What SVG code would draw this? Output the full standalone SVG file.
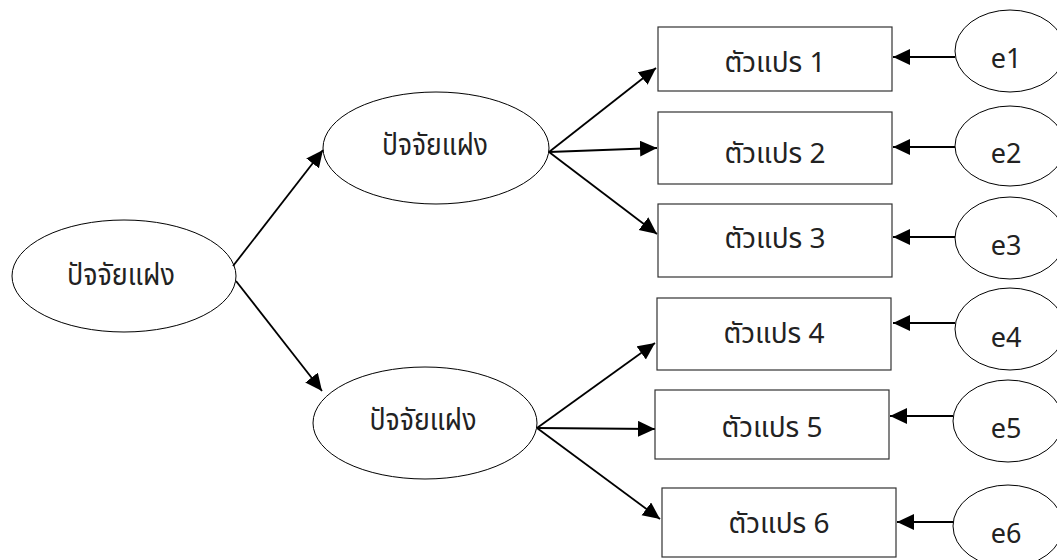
<svg xmlns="http://www.w3.org/2000/svg" width="1057" height="560" viewBox="0 0 1057 560">
<style>
  .bg { fill: #ffffff; }
  .latent { fill: none; stroke: #000000; stroke-width: 1; }
  .obs { fill: none; stroke: #333333; stroke-width: 1.2; }
  .err { fill: none; stroke: #000000; stroke-width: 1; }
  .edge { fill: none; stroke: #000000; stroke-width: 1.8; marker-end: url(#arrow); }
  .lt { font-family: "Noto Sans Thai", "Noto Sans", "DejaVu Sans", sans-serif; font-size: 30px; fill: #222222; text-anchor: middle; }
  .ot { font-family: "Noto Sans Thai", "Noto Sans", "DejaVu Sans", sans-serif; font-size: 28px; fill: #222222; text-anchor: middle; }
  .et { font-family: "Noto Sans", "Open Sans", sans-serif; font-size: 27px; fill: #222222; text-anchor: middle; }
</style>
<defs>
  <marker id="arrow" markerUnits="userSpaceOnUse" markerWidth="20" markerHeight="18" refX="17" refY="8" orient="auto">
    <path d="M0,0 L17,8 L0,16 Z" fill="#000000"/>
  </marker>
</defs>
<rect class="bg" x="0" y="0" width="1057" height="560"/>

<g id="connectors">
  <line class="edge" x1="233" y1="266" x2="323" y2="150"/>
  <line class="edge" x1="236" y1="281" x2="322" y2="391"/>
  <line class="edge" x1="549" y1="152" x2="656" y2="68"/>
  <line class="edge" x1="549" y1="152" x2="657" y2="148"/>
  <line class="edge" x1="549" y1="152" x2="657" y2="234"/>
  <line class="edge" x1="537" y1="428" x2="655" y2="343"/>
  <line class="edge" x1="537" y1="428" x2="655" y2="429"/>
  <line class="edge" x1="537" y1="428" x2="660" y2="519"/>
  <line class="edge" x1="955" y1="57" x2="893" y2="57"/>
  <line class="edge" x1="955" y1="147" x2="893" y2="147"/>
  <line class="edge" x1="955" y1="237" x2="893" y2="237"/>
  <line class="edge" x1="955" y1="323" x2="893" y2="323"/>
  <line class="edge" x1="953" y1="416" x2="890" y2="416"/>
  <line class="edge" x1="953" y1="522" x2="897" y2="522"/>
</g>

<g id="latent0">
  <ellipse class="latent" cx="124" cy="276" rx="112" ry="56"/>
  <text class="lt" x="121" y="285" textLength="108" lengthAdjust="spacingAndGlyphs">ปัจจัยแฝง</text>
</g>
<g id="latent1">
  <ellipse class="latent" cx="436" cy="148" rx="113" ry="56"/>
  <text class="lt" x="435" y="155" textLength="106" lengthAdjust="spacingAndGlyphs">ปัจจัยแฝง</text>
</g>
<g id="latent2">
  <ellipse class="latent" cx="425" cy="423" rx="112" ry="56"/>
  <text class="lt" x="423" y="430" textLength="107" lengthAdjust="spacingAndGlyphs">ปัจจัยแฝง</text>
</g>

<g id="var1">
  <rect class="obs" x="658" y="27" width="234" height="64"/>
  <text class="ot" x="775" y="72">ตัวแปร 1</text>
</g>
<g id="var2">
  <rect class="obs" x="658" y="112" width="234" height="72"/>
  <text class="ot" x="775" y="163">ตัวแปร 2</text>
</g>
<g id="var3">
  <rect class="obs" x="658" y="204" width="234" height="73"/>
  <text class="ot" x="775" y="248">ตัวแปร 3</text>
</g>
<g id="var4">
  <rect class="obs" x="657" y="298" width="234" height="72"/>
  <text class="ot" x="774" y="343">ตัวแปร 4</text>
</g>
<g id="var5">
  <rect class="obs" x="655" y="390" width="234" height="69"/>
  <text class="ot" x="772" y="437">ตัวแปร 5</text>
</g>
<g id="var6">
  <rect class="obs" x="662" y="488" width="234" height="69"/>
  <text class="ot" x="779" y="533">ตัวแปร 6</text>
</g>

<g id="e1">
  <ellipse class="err" cx="1010" cy="51" rx="55" ry="41"/>
  <text class="et" x="1006" y="68">e1</text>
</g>
<g id="e2">
  <ellipse class="err" cx="1010" cy="146" rx="55" ry="40"/>
  <text class="et" x="1006" y="163">e2</text>
</g>
<g id="e3">
  <ellipse class="err" cx="1010" cy="238" rx="55" ry="41"/>
  <text class="et" x="1006" y="255">e3</text>
</g>
<g id="e4">
  <ellipse class="err" cx="1010" cy="329" rx="55" ry="41"/>
  <text class="et" x="1006" y="347">e4</text>
</g>
<g id="e5">
  <ellipse class="err" cx="1008" cy="421" rx="55" ry="41"/>
  <text class="et" x="1006" y="438">e5</text>
</g>
<g id="e6">
  <ellipse class="err" cx="1008" cy="526" rx="55" ry="41"/>
  <text class="et" x="1006" y="543">e6</text>
</g>
</svg>
